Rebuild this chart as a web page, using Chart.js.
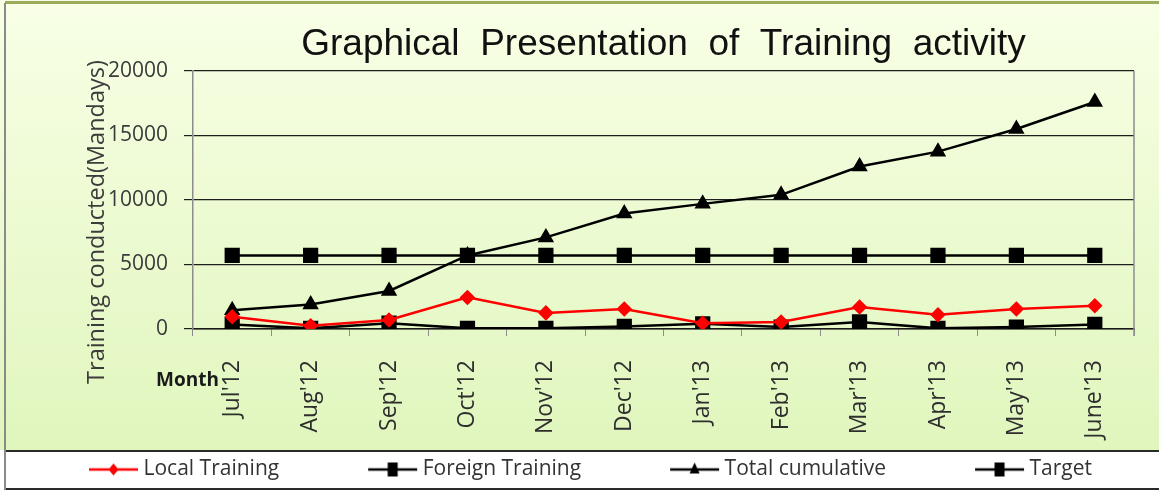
<!DOCTYPE html>
<html>
<head>
<meta charset="utf-8">
<script src="https://cdn.jsdelivr.net/npm/chart.js@4.4.1/dist/chart.umd.min.js"></script>
<style>
  html, body { margin: 0; padding: 0; background: #fff; }
  #wrap { width: 1159px; height: 490px; position: relative; }
</style>
</head>
<body>
<div id="wrap"><canvas id="trainingChart" width="1159" height="490"></canvas></div>
<script>
const months = ["Jul'12", "Aug'12", "Sep'12", "Oct'12", "Nov'12", "Dec'12", "Jan'13", "Feb'13", "Mar'13", "Apr'13", "May'13", "June'13"];
const localTraining = [950, 250, 700, 2450, 1250, 1550, 450, 550, 1700, 1100, 1550, 1800];
const foreignTraining = [350, 50, 450, 50, 50, 200, 400, 150, 550, 50, 150, 350];
const totalCumulative = [1450, 1900, 2950, 5700, 7100, 8950, 9700, 10400, 12600, 13750, 15500, 17600];
const target = [5700, 5700, 5700, 5700, 5700, 5700, 5700, 5700, 5700, 5700, 5700, 5700];
const yTicks = [0, 5000, 10000, 15000, 20000];

const swatchBox = 124; // legend box width reserved by Chart.js

// legend swatch: line with marker at the right end; image is 12px wider than the box
// so the marker sits close to the text
function legendSwatch(color, shape) {
  const c = document.createElement("canvas");
  c.width = swatchBox + 12;
  c.height = 18;
  const g = c.getContext("2d");
  const x1 = c.width - 1, x0 = x1 - 49, cx = (x0 + x1) / 2, cy = 9;
  g.strokeStyle = color;
  g.lineWidth = 2.5;
  g.beginPath();
  g.moveTo(x0, cy);
  g.lineTo(x1, cy);
  g.stroke();
  g.fillStyle = color;
  g.beginPath();
  if (shape === "diamond") {
    g.moveTo(cx, cy - 6); g.lineTo(cx + 5, cy); g.lineTo(cx, cy + 6); g.lineTo(cx - 5, cy);
  } else if (shape === "triangle") {
    g.moveTo(cx, cy - 7); g.lineTo(cx + 5, cy + 4); g.lineTo(cx - 5, cy + 4);
  } else {
    g.rect(cx - 5, cy - 7, 10, 14);
  }
  g.closePath();
  g.fill();
  return c;
}

const swatches = [
  legendSwatch("#ff0000", "diamond"),
  legendSwatch("#000000", "square"),
  legendSwatch("#000000", "triangle"),
  legendSwatch("#000000", "square"),
];

const frame = {
  id: "frame",
  beforeDraw(chart) {
    const { ctx, width, height } = chart;
    ctx.save();
    const grad = ctx.createLinearGradient(0, 0, 0, 450);
    grad.addColorStop(0, "#f8ffe6");
    grad.addColorStop(1, "#e0f6bd");
    ctx.fillStyle = grad;
    ctx.fillRect(0, 0, width, 450);
    ctx.fillStyle = "#ffffff";
    ctx.fillRect(0, 450, width, height - 450);
    ctx.fillStyle = "#9aab5c";
    ctx.fillRect(5, 1, width - 5, 3);
    ctx.fillStyle = "#8a8a8a";
    ctx.fillRect(4, 3, 2, height - 3);
    ctx.fillStyle = "#2a2a2a";
    ctx.fillRect(6, 450, width - 6, 2);
    ctx.fillRect(6, height - 2, width - 6, 2);
    ctx.restore();
  },
  afterDraw(chart) {
    const { ctx, chartArea } = chart;
    ctx.save();
    ctx.strokeStyle = "#8c8c8c";
    ctx.lineWidth = 1.5;
    ctx.beginPath();
    ctx.moveTo(chartArea.right, chartArea.top);
    ctx.lineTo(chartArea.right, chartArea.bottom + 7);
    ctx.stroke();

    ctx.fillStyle = "#3c3c3c";
    ctx.font = "23.5px 'Open Sans'";
    ctx.textAlign = "center";
    ctx.textBaseline = "middle";
    ctx.translate(97, 222);
    ctx.rotate(-Math.PI / 2);
    ctx.fillText("Training conducted(Mandays)", 0, 0);
    ctx.restore();

    ctx.save();
    ctx.fillStyle = "#1a1a1a";
    ctx.font = "bold 19px 'Open Sans'";
    ctx.textAlign = "right";
    ctx.textBaseline = "middle";
    ctx.fillText("Month", 219, 381);
    ctx.restore();
  },
};

const ctx = document.getElementById("trainingChart").getContext("2d");
const trainingChart = new Chart(ctx, {
  type: "line",
  data: {
    labels: months,
    datasets: [
      {
        label: "Local Training",
        data: localTraining,
        borderColor: "#ff0000",
        backgroundColor: "#ff0000",
        borderWidth: 2.5,
        pointStyle: "rectRot",
        pointRadius: 6,
        pointHoverRadius: 6,
      },
      {
        label: "Foreign Training",
        data: foreignTraining,
        borderColor: "#000000",
        backgroundColor: "#000000",
        borderWidth: 2.5,
        pointStyle: "rect",
        pointRadius: 9,
        pointHoverRadius: 9,
      },
      {
        label: "Total cumulative",
        data: totalCumulative,
        borderColor: "#000000",
        backgroundColor: "#000000",
        borderWidth: 2.5,
        pointStyle: "triangle",
        pointRadius: 7,
        pointHoverRadius: 7,
      },
      {
        label: "Target",
        data: target,
        borderColor: "#000000",
        backgroundColor: "#000000",
        borderWidth: 2.5,
        pointStyle: "rect",
        pointRadius: 9,
        pointHoverRadius: 9,
      },
    ],
  },
  options: {
    responsive: false,
    animation: false,
    layout: { padding: { left: 0, right: 25, top: 0, bottom: 0 } },
    scales: {
      x: {
        offset: true,
        grid: {
          offset: true,
          drawOnChartArea: false,
          drawTicks: true,
          tickLength: 7,
          color: "#8c8c8c",
        },
        border: { color: "#1a1a1a", width: 1.5 },
        ticks: {
          maxRotation: 90,
          minRotation: 90,
          padding: 24,
          color: "#2e2e2e",
          font: { size: 23, family: "Open Sans" },
        },
        afterFit: function (scale) {
          scale.height = 121;
        },
      },
      y: {
        min: 0,
        max: 20000,
        afterBuildTicks: function (scale) {
          scale.ticks = yTicks.map((v) => ({ value: v }));
        },
        grid: {
          color: "#1e1e1e",
          lineWidth: 1.2,
          tickLength: 9,
        },
        border: { color: "#8c8c8c", width: 1.5 },
        ticks: {
          padding: 16,
          color: "#3a3a3a",
          font: { size: 21, family: "Open Sans" },
          callback: function (value) {
            return String(value);
          },
        },
        afterFit: function (scale) {
          scale.width = 193;
        },
      },
    },
    plugins: {
      title: {
        display: true,
        fullSize: false,
        text: "Graphical  Presentation  of  Training  activity",
        color: "#111111",
        font: { size: 37, family: "Liberation Sans", weight: "normal" },
        padding: { top: 23, bottom: 3.6 },
      },
      legend: {
        position: "bottom",
        align: "start",
        labels: {
          usePointStyle: true,
          pointStyleWidth: swatchBox,
          boxHeight: 18,
          padding: 9,
          color: "#333333",
          font: { size: 21, family: "Open Sans" },
          generateLabels: function (chart) {
            const items = Chart.defaults.plugins.legend.labels.generateLabels(chart);
            return items.map((item, i) => Object.assign(item, { pointStyle: swatches[i] }));
          },
        },
      },
      tooltip: { enabled: false },
    },
  },
  plugins: [frame],
});
</script>
</body>
</html>
